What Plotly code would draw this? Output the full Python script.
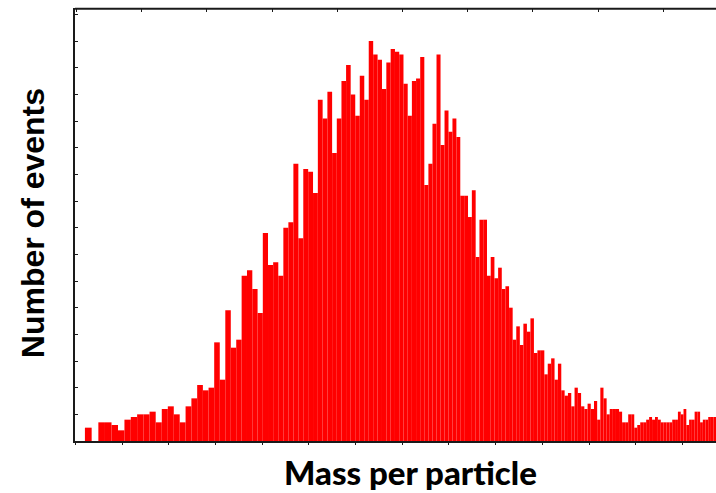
import numpy as np
import plotly.graph_objects as go

# Histogram bins (mass, arbitrary units, shown on a log-scaled axis) and counts
mass_bins = list(range(100, 254))
counts = [
    5, 0, 7, 7, 6, 4, 8, 9, 10, 10, 11, 7, 12, 13,
    10, 7, 13, 16, 21, 19, 20, 37, 23, 49, 35, 38, 62, 64, 57, 48, 78, 66, 67, 62,
    80, 82, 104, 76, 102, 101, 93, 128, 121, 131, 108, 121, 135, 141, 130, 122,
    137, 128, 150, 145, 143, 132, 142, 147,
    146, 145, 134, 122, 135, 136, 144, 96, 104, 119, 145, 111, 124, 116, 121, 114,
    92, 92, 84, 94, 69, 83, 83, 62, 69, 61, 65,
    57, 58, 50, 38, 43, 36, 44, 41, 46, 33, 34, 34, 25, 29, 31, 23, 29, 19, 17, 18,
    13, 20, 18, 13, 12, 14, 12, 15, 8,
    20, 16, 10, 12, 12, 12, 11, 7, 7, 10, 10, 5, 6, 7, 7, 8, 9, 8, 9, 8,
    7, 7, 7, 7, 8, 8, 11, 10, 12, 6, 8, 8, 11, 11, 7, 8, 8, 9, 9, 9,
]

x_title = "Mass per particle"
y_title = "Number of events"

fig = go.Figure()
fig.add_trace(go.Bar(
    x=mass_bins, y=counts, width=1,
    marker=dict(color="#ff0000", line=dict(width=0)),
    showlegend=False, hoverinfo="skip",
))
# invisible helper traces so the bottom/top tick axes are drawn
fig.add_trace(go.Scatter(x=[0], y=[-50], xaxis="x2", yaxis="y", mode="markers",
                         marker=dict(opacity=0), showlegend=False, hoverinfo="skip"))
fig.add_trace(go.Scatter(x=[0], y=[-50], xaxis="x3", yaxis="y", mode="markers",
                         marker=dict(opacity=0), showlegend=False, hoverinfo="skip"))

axis_col = "#1a1a1a"
fig.update_layout(
    width=716, height=493,
    margin=dict(l=75, r=0, t=8, b=52),
    paper_bgcolor="white", plot_bgcolor="white",
    bargap=0.15,
    xaxis=dict(type="log", range=[np.log10(98.05), np.log10(253.4)],
               showline=True, linecolor=axis_col, linewidth=2,
               showgrid=False, zeroline=False, showticklabels=False, ticks=""),
    yaxis=dict(range=[0, 162.4], showline=True, linecolor=axis_col, linewidth=2,
               showgrid=False, zeroline=False, showticklabels=False,
               ticks="inside", ticklen=3, tickwidth=1, tickcolor=axis_col,
               tick0=0, dtick=10),
    xaxis2=dict(overlaying="x", anchor="y", side="bottom", range=[-1.01, 12.72],
                showline=False, showgrid=False, zeroline=False, showticklabels=False,
                ticks="outside", ticklen=3, tickwidth=1, tickcolor=axis_col,
                tick0=0, dtick=1),
    xaxis3=dict(overlaying="x", anchor="y", side="top", range=[-1.023, 8.808],
                showline=False, showgrid=False, zeroline=False, showticklabels=False,
                ticks="inside", ticklen=4, tickwidth=1, tickcolor=axis_col,
                tick0=0, dtick=1),
    shapes=[dict(type="line", xref="paper", yref="paper", x0=0, x1=1,
                 y0=0.998, y1=0.998,
                 line=dict(color=axis_col, width=2), layer="above")],
    annotations=[
        dict(text=x_title, xref="paper", yref="paper", x=0.524, y=-0.072,
             xanchor="center", yanchor="middle", showarrow=False,
             font=dict(family="Lato", size=33, color="black", weight=900)),
        dict(text=y_title, xref="paper", yref="paper", x=-0.0655, y=0.503,
             xanchor="center", yanchor="middle", showarrow=False, textangle=-90,
             font=dict(family="Liberation Sans", size=32, color="black", weight="bold")),
    ],
)

fig.write_html("out.html")
